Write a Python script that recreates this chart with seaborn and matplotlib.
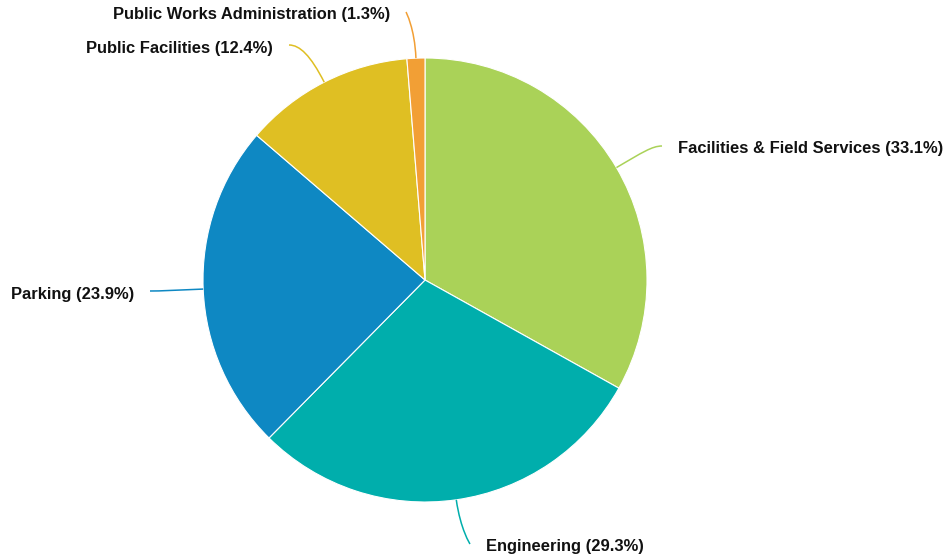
import numpy as np
import matplotlib
matplotlib.use("Agg")
import matplotlib.pyplot as plt
from matplotlib.path import Path
from matplotlib.patches import PathPatch
import seaborn as sns

# Budget share by division (percent), clockwise from 12 o'clock
divisions = ["Facilities & Field Services", "Engineering", "Parking",
             "Public Facilities", "Public Works Administration"]
shares = [33.1, 29.3, 23.9, 12.4, 1.3]
colors = ["#aad258", "#00aeac", "#0e88c3", "#dfbf23", "#f29f35"]

# Label anchor (end of the leader line, in pixel coords from the top-left)
# and which side of the anchor the text sits on
label_anchor = [(662, 146), (470, 544), (150, 291), (289, 45), (406, 12)]
label_side = ["right", "right", "left", "left", "left"]

W, H = 951, 558
cx, cy, R = 425, 280, 222

sns.set_theme(style="white")
plt.rcParams["font.family"] = ["Liberation Sans", "DejaVu Sans"]

fig = plt.figure(figsize=(W / 100, H / 100), dpi=100)
ax = fig.add_axes([0, 0, 1, 1])

ax.pie(shares, colors=colors, startangle=90, counterclock=False,
       center=(cx, H - cy), radius=R, frame=True,
       wedgeprops=dict(edgecolor="white", linewidth=0.8))
ax.set_xlim(0, W)
ax.set_ylim(0, H)
ax.set_aspect("equal")
ax.axis("off")

# Leader lines and labels
total = sum(shares)
cum = 0.0
for name, val, col, (lx, ly), side in zip(divisions, shares, colors,
                                          label_anchor, label_side):
    mid = (cum + val / 2) / total * 2 * np.pi
    cum += val
    sx = cx + R * np.sin(mid)
    sy = cy - R * np.cos(mid)
    # control point: radial direction out of the slice, flattened toward the anchor height
    ox = cx + (R + 30) * np.sin(mid)
    oy = cy - (R + 30) * np.cos(mid)
    c1 = (ox, oy)
    c2 = ((ox + lx) / 2 if abs(lx - sx) > 20 else lx, ly)
    verts = [(sx, H - sy), (c1[0], H - c1[1]), (c2[0], H - c2[1]), (lx, H - ly)]
    path = Path(verts, [Path.MOVETO, Path.CURVE4, Path.CURVE4, Path.CURVE4])
    ax.add_patch(PathPatch(path, facecolor="none", edgecolor=col, lw=1.1))
    label = f"{name} ({val}%)"
    if side == "right":
        ax.text(lx + 16, H - ly - 3, label, ha="left", va="center",
                fontsize=11.9, fontweight="bold", color="#111111")
    else:
        ax.text(lx - 16, H - ly - 3, label, ha="right", va="center",
                fontsize=11.9, fontweight="bold", color="#111111")

fig.savefig("out.png", dpi=100)
